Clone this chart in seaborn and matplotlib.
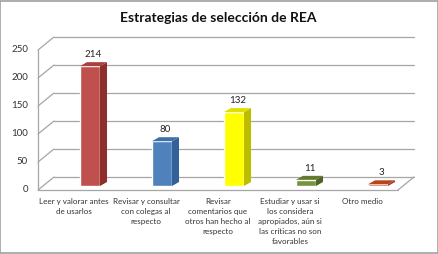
import numpy as np
import seaborn as sns
import matplotlib.pyplot as plt
from matplotlib.patches import Polygon, Rectangle

# data
categories = ["Leer y valorar antes\nde usarlos",
              "Revisar y consultar\ncon colegas al\nrespecto",
              "Revisar\ncomentarios que\notros han hecho al\nrespecto",
              "Estudiar y usar si\nlos considera\napropiados, aún si\nlas críticas no son\nfavorables",
              "Otro medio"]
values = [214, 80, 132, 11, 3]
y_ticks = [0, 50, 100, 150, 200, 250]

front_colors = ["#C0504D", "#4F81BD", "#FFFF00", "#77933C", "#D4552A"]
side_colors = ["#8C2F2D", "#34609A", "#BDBD00", "#4F6228", "#9A3A1A"]
top_colors = ["#A8403D", "#3F6FA8", "#E0E000", "#62792F", "#B84520"]

sns.set_style('white')
plt.rcParams['font.family'] = ['Lato', 'DejaVu Sans']

fig = plt.figure(figsize=(4.39, 2.54), dpi=100)
W, H = 439, 254
# axes box in pixels: x 54..414, y (value 0) at 186, 250 at 46
ax = fig.add_axes([54 / W, (H - 186) / H, 360 / W, 140 / H])
ax.set_xlim(-0.5, 4.5)
ax.set_ylim(0, 250)
ax.axis('off')

sns.barplot(x=list(range(5)), y=values, hue=list(range(5)), palette=front_colors,
            width=0.278, saturation=1, legend=False, ax=ax, zorder=3)

px_x = 1 / 72.0   # data units per pixel, x
px_y = 1 / 0.56   # data units per pixel, y
fx, fy = -16 * px_x, -4 * px_y      # front plane offset
bx, by = 0.0, 9 * px_y              # back wall offset
grid_c = "#A6A6A6"

# back wall gridlines and left wall diagonals
for v in y_ticks:
    ax.plot([-0.5 + bx, 4.5 + bx], [v + by, v + by], color=grid_c, lw=0.9, clip_on=False, zorder=1)
    ax.plot([-0.5 + fx, -0.5 + bx], [v + fy, v + by], color=grid_c, lw=0.9, clip_on=False, zorder=1)
    ax.text(-0.5 + fx - 10 * px_x, v + fy, str(v), ha='right', va='center',
            fontsize=7, color="#333333", clip_on=False)

# floor and vertical axis
ax.plot([-0.5 + fx, 4.5 + fx], [fy, fy], color=grid_c, lw=0.9, clip_on=False, zorder=1)
ax.plot([4.5 + fx, 4.5 + bx], [fy, by], color=grid_c, lw=0.9, clip_on=False, zorder=1)
ax.plot([-0.5 + fx, -0.5 + fx], [fy, 250 + fy], color=grid_c, lw=0.9, clip_on=False, zorder=1)

# 3d faces of the bars
d = 7 * px_x
r = 4 * px_y
for i, p in enumerate(ax.patches):
    x0 = p.get_x()
    x1 = x0 + p.get_width()
    h = p.get_height()
    side = Polygon([(x1, 0), (x1 + d, r), (x1 + d, h + r), (x1, h)],
                   closed=True, facecolor=side_colors[i], edgecolor='none', zorder=3)
    top = Polygon([(x0, h), (x0 + d, h + r), (x1 + d, h + r), (x1, h)],
                  closed=True, facecolor=top_colors[i], edgecolor='none', zorder=3)
    ax.add_patch(side)
    ax.add_patch(top)
    ax.text((x0 + x1 + d) / 2, h + r + 3 * px_y, str(values[i]), ha='center', va='bottom',
            fontsize=7, color="#222222", clip_on=False)

# category labels
for i, lab in enumerate(categories):
    ax.text(i + fx, fy - 8 * px_y, lab, ha='center', va='top', fontsize=5.8,
            color="#333333", linespacing=1.5, clip_on=False)

fig.text(0.497, 1 - 18 / H, "Estrategias de selección de REA", ha='center', va='center',
         fontsize=10, fontweight='bold', color="#111111")

fig.patches.append(Rectangle((0.001, 0.002), 0.996, 0.995, transform=fig.transFigure,
                             fill=False, edgecolor="#A0A0A0", lw=1.2))

fig.savefig("out.png", dpi=100)
